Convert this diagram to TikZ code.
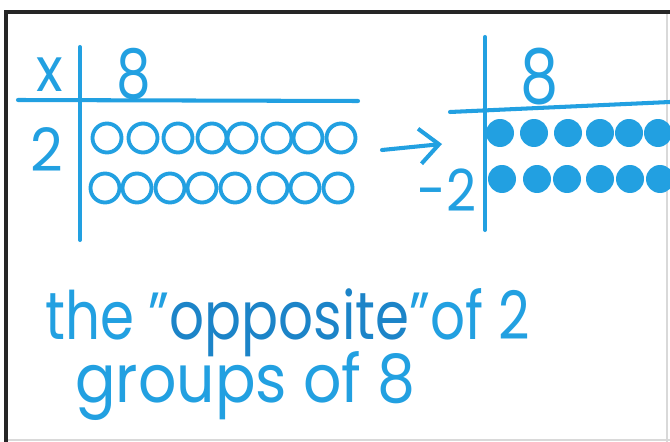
\documentclass[tikz,border=0pt]{standalone}
\usepackage{fontspec}
\setmainfont{Poppins}
\usetikzlibrary{arrows.meta}
\definecolor{marker}{RGB}{34,160,225}
\definecolor{markerdark}{RGB}{28,132,200}
\tikzset{
	pen/.style={marker, line width=2.3pt, line cap=round},
	hand/.style={text=marker, inner sep=0pt},
	ring/.style={draw=marker, line width=2.2pt, circle, minimum size=0.58cm, inner sep=0pt},
	dot/.style={fill=marker, circle, minimum size=0.56cm, inner sep=0pt}
}
\begin{document}
\begin{tikzpicture}[x=0.02cm, y=-0.02cm]
	\useasboundingbox (0,0) rectangle (670,442);
	\clip (0,0) rectangle (670,442);
	\fill[white] (0,0) rectangle (670,442);
	\draw[black!15, line width=1pt] (667,12) -- (667,442);
	\draw[black!15, line width=1pt] (6,440) -- (670,440);
	\draw[black!85, line width=2.5pt] (6,442) -- (6,12) -- (670,12);
	
	% 2 x 8 table
	\draw[pen] (80,47) -- (80,240);
	\draw[pen] (18,100) -- (358,101);
	\node[hand, font=\fontsize{35}{35}\selectfont, xscale=0.9] (times) at (50,75) {x};
	\node[hand, font=\fontsize{39}{39}\selectfont, xscale=0.8] (cols) at (134,74) {8};
	\node[hand, font=\fontsize{34}{34}\selectfont, xscale=0.95] (rows) at (47,150) {2};
	\foreach \i/\x in {1/107, 2/143, 3/178, 4/212, 5/242, 6/277, 7/308, 8/341}
	\node[ring] (a-\i) at (\x,138) {};
	\foreach \i/\x in {1/105, 2/137, 3/170, 4/202, 5/235, 6/273, 7/305, 8/338}
	\node[ring] (b-\i) at (\x,188) {};
	
	\coordinate (tail) at (382,150);
	\coordinate (head) at (442,144);
	\draw[pen, -{Straight Barb[length=11pt, width=20pt, line width=2.3pt]}] (tail) -- (head);
	
	% -2 x 8 table
	\draw[pen] (485,37) -- (485,230);
	\draw[pen] (450,112) -- (670,102);
	\node[hand, font=\fontsize{43}{43}\selectfont, xscale=0.8] (negcols) at (540,77) {8};
	\node[hand, font=\fontsize{33}{33}\selectfont, xscale=0.9] (negrows) at (447,190) {-2};
	\foreach \i/\x in {1/500, 2/534, 3/568, 4/600, 5/629, 6/658}
	\node[dot] (c-\i) at (\x,133) {};
	\foreach \i/\x in {1/502, 2/537, 3/567, 4/600, 5/630, 6/660}
	\node[dot] (d-\i) at (\x,179) {};
	
	\node[hand, anchor=base west, font=\fontsize{38}{38}\selectfont, xscale=0.82] (line1) at (45,340) {the "{\color{markerdark}opposite}"of 2};
	\node[hand, anchor=base west, font=\fontsize{38}{38}\selectfont, xscale=0.9] (line2) at (75,403) {groups of 8};
\end{tikzpicture}
\end{document}
